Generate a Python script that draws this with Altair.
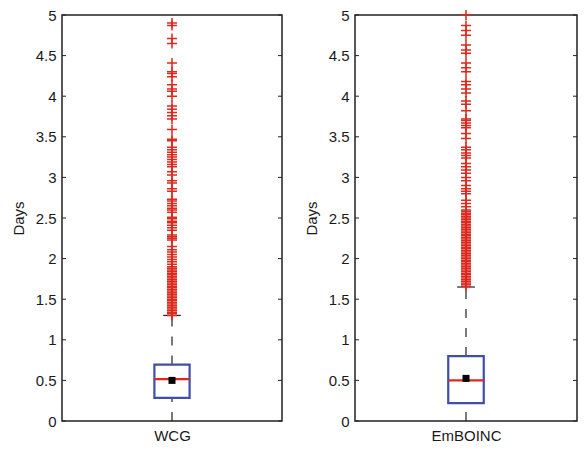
import altair as alt
import pandas as pd

groups = ["WCG", "EmBOINC"]
q1 = [0.285, 0.22]
median = [0.515, 0.50]
q3 = [0.695, 0.80]
mean = [0.50, 0.525]
whisker_low = [0.0, 0.0]
whisker_high = [1.30, 1.65]

wcg_outliers = [
    1.30, 1.32, 1.34, 1.36, 1.38, 1.40, 1.42, 1.44, 1.46, 1.48, 1.50, 1.52, 1.54,
    1.56, 1.58, 1.60, 1.62, 1.64, 1.66, 1.68, 1.70, 1.72, 1.74, 1.76, 1.78, 1.80,
    1.82, 1.84, 1.86, 1.88, 1.90, 1.93, 1.96, 1.99, 2.02, 2.05, 2.08, 2.11, 2.15,
    2.23, 2.25, 2.27, 2.29, 2.35, 2.38, 2.41, 2.44, 2.46, 2.49, 2.51, 2.57, 2.60,
    2.62, 2.65, 2.68, 2.71, 2.73, 2.83, 2.86, 2.93, 2.96, 3.03, 3.07, 3.13, 3.16,
    3.19, 3.22, 3.25, 3.28, 3.31, 3.34, 3.37, 3.45, 3.47, 3.59, 3.72, 3.76, 3.80,
    3.84, 3.88, 4.00, 4.06, 4.09, 4.14, 4.24, 4.28, 4.30, 4.41, 4.65, 4.71, 4.87,
    4.90,
]
emboinc_outliers = [
    1.66, 1.68, 1.70, 1.72, 1.74, 1.76, 1.78, 1.80, 1.82, 1.84, 1.86, 1.88, 1.90,
    1.92, 1.94, 1.96, 1.98, 2.00, 2.02, 2.04, 2.06, 2.08, 2.10, 2.12, 2.14, 2.16,
    2.18, 2.20, 2.22, 2.24, 2.26, 2.28, 2.30, 2.32, 2.34, 2.36, 2.38, 2.40, 2.42,
    2.44, 2.46, 2.48, 2.50, 2.52, 2.54, 2.56, 2.58, 2.60, 2.64, 2.68, 2.72, 2.80,
    2.83, 2.86, 2.90, 2.96, 3.00, 3.05, 3.09, 3.13, 3.17, 3.24, 3.27, 3.30, 3.34,
    3.37, 3.48, 3.54, 3.61, 3.64, 3.67, 3.70, 3.72, 3.82, 3.90, 3.94, 4.04, 4.09,
    4.14, 4.18, 4.30, 4.35, 4.41, 4.53, 4.57, 4.63, 4.75, 4.81, 4.87, 5.00,
]
outliers = [wcg_outliers, emboinc_outliers]
y_ticks = [0, 0.5, 1, 1.5, 2, 2.5, 3, 3.5, 4, 4.5, 5]
panel_widths = [220, 222]

BLUE = "#3f4eaa"
RED = "#dc2a1e"
INK = "#1a1a1a"
FONT = "Liberation Sans"
PLUS = "M-1,0L1,0M0,-1L0,1"


def panel(i):
    w = panel_widths[i]
    st = pd.DataFrame({
        "x": [1.0], "xlo": [0.84], "xhi": [1.16], "clo": [0.92], "chi": [1.08],
        "q1": [q1[i]], "med": [median[i]], "q3": [q3[i]], "mean": [mean[i]],
        "wlo": [whisker_low[i]], "whi": [whisker_high[i]],
    })
    xs = alt.Scale(domain=[0, 2], nice=False, zero=False)
    ys = alt.Scale(domain=[0, 5], nice=False)
    xax = alt.Axis(values=[1], labelExpr=f"'{groups[i]}'", ticks=False, domain=False,
                   grid=False, title=None, labelFontSize=15, labelPadding=7,
                   labelFont=FONT, labelColor=INK)
    yax = alt.Axis(values=y_ticks, format="~g", ticks=False, domain=False, grid=False,
                   title="Days", titleFont=FONT, titleFontSize=15, titleFontWeight="normal",
                   titleColor=INK, titlePadding=9, labelFont=FONT, labelFontSize=15,
                   labelColor=INK, labelPadding=6)

    base = alt.Chart(st)
    whisk_up = base.mark_rule(color="#222", strokeWidth=1.2, strokeDash=[9, 10]).encode(
        x=alt.X("x:Q", scale=xs, axis=xax), y=alt.Y("q3:Q", scale=ys, axis=yax), y2="whi:Q")
    whisk_lo = base.mark_rule(color="#222", strokeWidth=1.2, strokeDash=[9, 10]).encode(
        x="x:Q", y="wlo:Q", y2="q1:Q")
    cap = base.mark_rule(color="#222", strokeWidth=1.2).encode(x="clo:Q", x2="chi:Q", y="whi:Q")
    box = base.mark_rect(fillOpacity=0, stroke=BLUE, strokeWidth=2.2).encode(
        x="xlo:Q", x2="xhi:Q", y="q1:Q", y2="q3:Q")
    med = base.mark_rule(color=RED, strokeWidth=2.2).encode(x="xlo:Q", x2="xhi:Q", y="med:Q")
    mn = base.mark_point(shape="square", filled=True, color="black", size=49, opacity=1).encode(
        x="x:Q", y="mean:Q")

    od = pd.DataFrame({"x": [1.0] * len(outliers[i]), "v": outliers[i]})
    outs = alt.Chart(od).mark_point(shape=PLUS, filled=False, color=RED, size=100,
                                    strokeWidth=1.5, opacity=1).encode(x="x:Q", y="v:Q")

    td = pd.DataFrame({"t": y_ticks})
    tl = alt.Chart(td).mark_rule(color="#222", strokeWidth=1).encode(
        x=alt.value(0), x2=alt.value(4), y="t:Q")
    tr = alt.Chart(td).mark_rule(color="#222", strokeWidth=1).encode(
        x=alt.value(w - 4), x2=alt.value(w), y="t:Q")

    return alt.layer(whisk_up, whisk_lo, cap, box, med, outs, mn, tl, tr).properties(
        width=w, height=406)


chart = alt.hconcat(panel(0), panel(1), spacing=19).properties(
    padding={"left": 2, "top": -2, "right": -1, "bottom": -2},
).configure_view(stroke="#222", strokeWidth=1.5)

chart.save("out.html", embed_options={"renderer": "svg", "actions": False})
